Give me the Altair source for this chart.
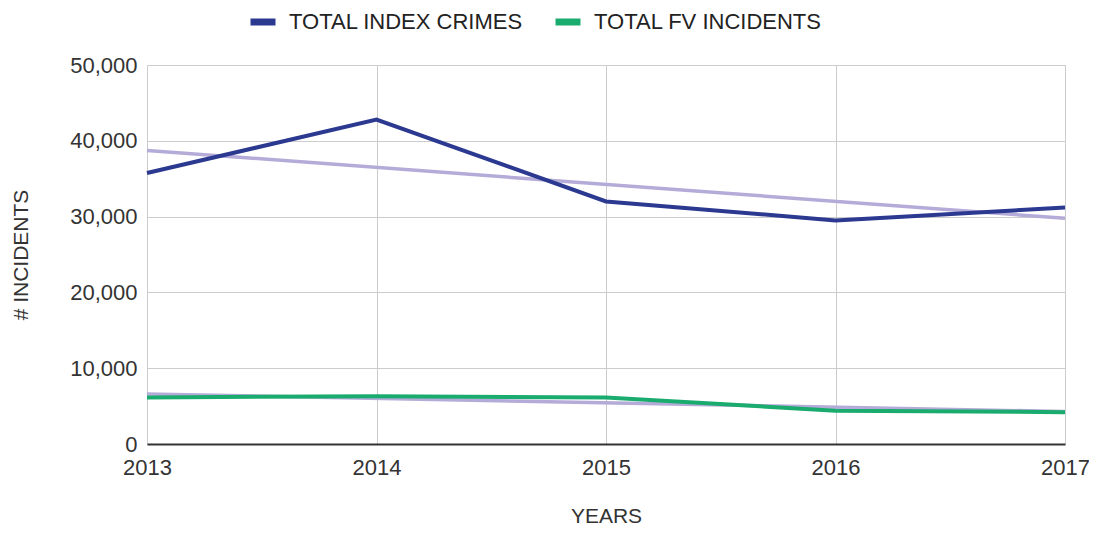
import altair as alt
import pandas as pd

years = [2013, 2014, 2015, 2016, 2017]
index_crimes = [35750, 42800, 32000, 29500, 31200]
fv_incidents = [6150, 6300, 6150, 4400, 4200]
series_names = ["TOTAL INDEX CRIMES", "TOTAL FV INCIDENTS"]
series_colors = ["#2b3990", "#1aab6e"]
trend_color = "#b5abd8"
y_ticks = [0, 10000, 20000, 30000, 40000, 50000]

rows = []
for y, a, b in zip(years, index_crimes, fv_incidents):
    rows.append({"year": y, "series": series_names[0], "value": a})
    rows.append({"year": y, "series": series_names[1], "value": b})
df = pd.DataFrame(rows)

FONT = "Liberation Sans"
FS = 22

x_enc = alt.X(
    "year:Q",
    scale=alt.Scale(domain=[2013, 2017], nice=False, zero=False),
    axis=alt.Axis(
        values=years, format="d", title="YEARS", ticks=False,
        labelFontSize=FS, labelColor="#333", labelPadding=13, labelFont=FONT,
        titleFontSize=FS - 1, titleColor="#333", titleFont=FONT, titleFontWeight="normal",
        titlePadding=27, domainColor="#333", domainWidth=2, gridColor="#cccccc",
        labelFlush=False,
    ),
)
y_enc = alt.Y(
    "value:Q",
    scale=alt.Scale(domain=[0, 50000], nice=False),
    axis=alt.Axis(
        values=y_ticks, format=",d", title="# INCIDENTS", ticks=False,
        labelFontSize=FS, labelColor="#333", labelPadding=10, labelFont=FONT,
        titleFontSize=FS - 1, titleColor="#333", titleFont=FONT, titleFontWeight="normal",
        titlePadding=38, domain=False, gridColor="#cccccc",
    ),
)

base = alt.Chart(df)

trend = base.transform_regression(
    "year", "value", groupby=["series"], method="linear", extent=[2013, 2017]
).mark_line(strokeWidth=3.5, color=trend_color).encode(
    x=x_enc, y=y_enc, detail="series:N"
)

lines = base.mark_line(strokeWidth=4).encode(
    x=x_enc,
    y=y_enc,
    color=alt.Color(
        "series:N",
        scale=alt.Scale(domain=series_names, range=series_colors),
        legend=alt.Legend(
            title=None, orient="none", direction="horizontal",
            legendX=100, legendY=-59,
            symbolType="stroke", symbolSize=625, symbolStrokeWidth=7,
            labelFontSize=FS, labelColor="#222", labelFont=FONT,
            labelOffset=10, columnPadding=18, labelLimit=0,
        ),
    ),
)

chart = alt.layer(trend, lines).properties(
    width=918, height=379,
    autosize=alt.AutoSizeParams(type="none"),
    padding={"left": 139, "top": 57, "right": 24, "bottom": 81},
).configure_view(stroke="#cccccc").configure(background="white")

chart.save("out.html", embed_options={"renderer": "svg", "actions": False})
